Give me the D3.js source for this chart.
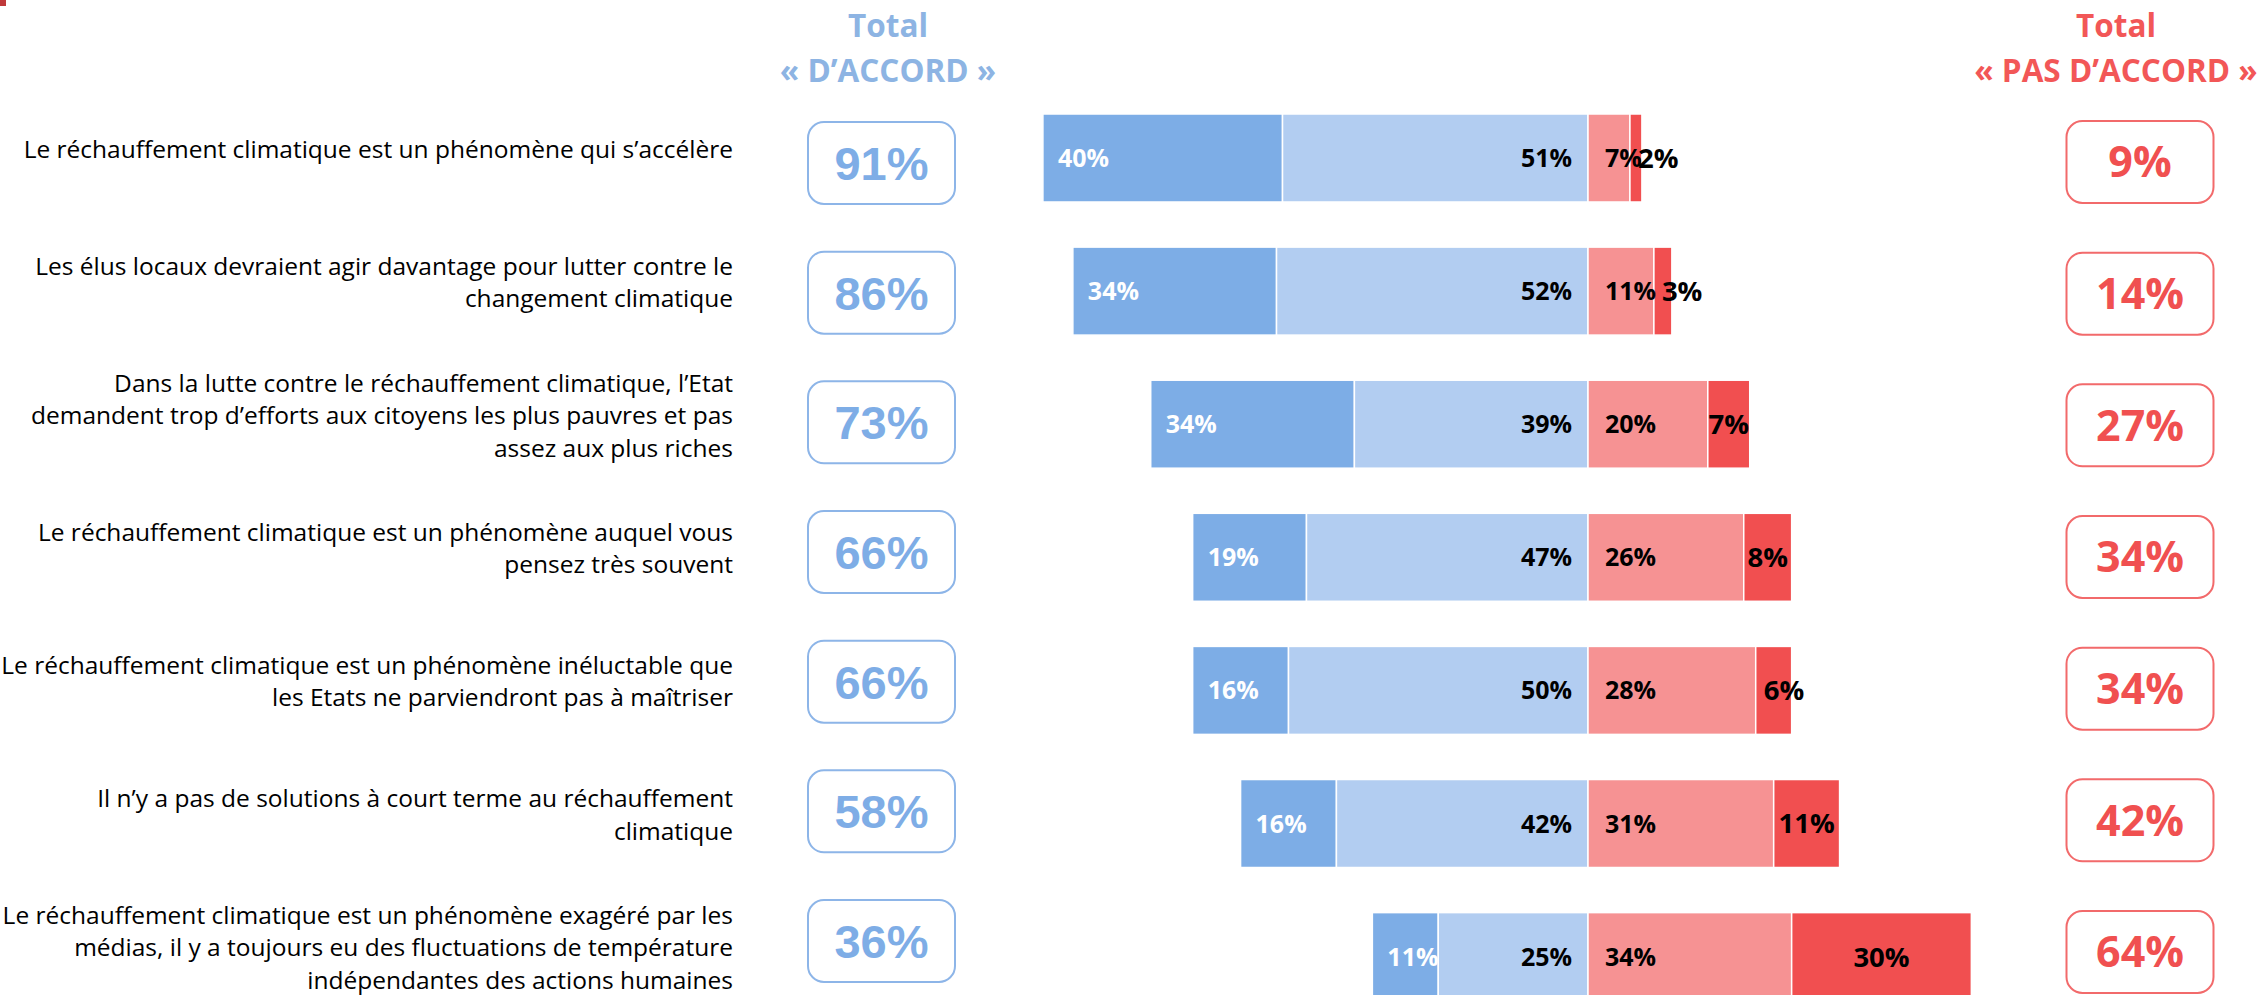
<!DOCTYPE html>
<html>
<head>
<meta charset="utf-8">
<script src="https://cdn.jsdelivr.net/npm/d3@7"></script>
<style>
  html, body { margin: 0; padding: 0; background: #fff; }
  svg { display: block; }
</style>
</head>
<body>
<svg width="2261" height="995"></svg>
<script>
var statements = [
    'Le réchauffement climatique est un phénomène qui s’accélère',
    'Les élus locaux devraient agir davantage pour lutter contre le\nchangement climatique',
    'Dans la lutte contre le réchauffement climatique, l’Etat\ndemandent trop d’efforts aux citoyens les plus pauvres et pas\nassez aux plus riches',
    'Le réchauffement climatique est un phénomène auquel vous\npensez très souvent',
    'Le réchauffement climatique est un phénomène inéluctable que\nles Etats ne parviendront pas à maîtriser',
    'Il n’y a pas de solutions à court terme au réchauffement\nclimatique',
    'Le réchauffement climatique est un phénomène exagéré par les\nmédias, il y a toujours eu des fluctuations de température\nindépendantes des actions humaines'
];
var tresDaccord = [40, 34, 34, 19, 16, 16, 11],
    plutotDaccord = [51, 52, 39, 47, 50, 42, 25],
    plutotPasDaccord = [7, 11, 20, 26, 28, 31, 34],
    pasDuToutDaccord = [2, 3, 7, 8, 6, 11, 30],
    totalDaccord = [91, 86, 73, 66, 66, 58, 36],
    totalPasDaccord = [9, 14, 27, 34, 34, 42, 64];
var headerDaccord = ['Total', '« D’ACCORD »'],
    headerPasDaccord = ['Total', '« PAS D’ACCORD »'];

var colors = ['#7DADE6', '#B2CDF1', '#F69293', '#F14F50'],
    labelColors = ['#fff', '#000', '#000', '#000'];

var svg = d3.select('svg');

// little red mark in the corner
svg.append('rect').attr('x', 0).attr('y', 0).attr('width', 6).attr('height', 6).attr('fill', '#C0393B');

var idx = d3.range(statements.length);

var x = d3.scaleLinear().domain([-100, 100]).range([989, 2187]);
var y = d3.scaleBand().domain(idx).range([114, 1000.6]).paddingInner(0.339).paddingOuter(0);
var boxLeftY = d3.scaleLinear().domain([0, 6]).range([163, 941]);
var boxRightY = d3.scaleLinear().domain([0, 6]).range([162, 952]);

function center(i) {
    return y(i) + y.bandwidth() / 2;
}

// build segments for each row
var rows = idx.map(function (i) {
    var s = [
        {k: 0, x0: -(tresDaccord[i] + plutotDaccord[i]), x1: -plutotDaccord[i], v: tresDaccord[i]},
        {k: 1, x0: -plutotDaccord[i], x1: 0, v: plutotDaccord[i]},
        {k: 2, x0: 0, x1: plutotPasDaccord[i], v: plutotPasDaccord[i]},
        {k: 3, x0: plutotPasDaccord[i], x1: plutotPasDaccord[i] + pasDuToutDaccord[i], v: pasDuToutDaccord[i]}
    ];
    s.forEach(function (d) { d.row = i; });
    return s;
});

var g = svg.append('g');

rows.forEach(function (segs, i) {
    var row = g.append('g');
    row.selectAll('rect')
        .data(segs)
        .enter().append('rect')
        .attr('x', function (d) { return x(d.x0); })
        .attr('y', y(i))
        .attr('width', function (d) { return x(d.x1) - x(d.x0); })
        .attr('height', y.bandwidth())
        .attr('fill', function (d) { return colors[d.k]; })
        .attr('stroke', '#fff')
        .attr('stroke-width', 1.5);

    row.selectAll('text')
        .data(segs)
        .enter().append('text')
        .attr('y', center(i))
        .attr('dy', '0.36em')
        .attr('fill', function (d) { return labelColors[d.k]; })
        .style('font-family', '"Open Sans", sans-serif')
        .style('font-weight', 700)
        .style('font-size', function (d) { return d.k === 3 ? '27.5px' : '25px'; })
        .text(function (d) { return d.v + '%'; })
        .each(function (d) {
            var t = d3.select(this),
                w = this.getComputedTextLength(),
                segW = x(d.x1) - x(d.x0);
            if (d.k === 0) {
                t.attr('x', x(d.x0) + 15).attr('text-anchor', 'start');
            } else if (d.k === 1) {
                t.attr('x', x(0) - 16).attr('text-anchor', 'end');
            } else if (d.k === 2) {
                t.attr('x', x(0) + 17).attr('text-anchor', 'start');
            } else if (w > segW) {
                // too narrow: push the label out to the right
                t.attr('x', x(d.x0) + 8).attr('text-anchor', 'start');
            } else {
                t.attr('x', (x(d.x0) + x(d.x1)) / 2).attr('text-anchor', 'middle');
            }
        });
});

// statement labels
var lineH = 32.5;
idx.forEach(function (i) {
    var lines = statements[i].split('\n'),
        c = center(i) - 9,
        top = c - (lines.length - 1) * lineH / 2;
    var t = svg.append('text')
        .attr('text-anchor', 'end')
        .attr('fill', '#000')
        .style('font-family', '"Open Sans", sans-serif')
        .style('font-size', '24.5px');
    lines.forEach(function (l, j) {
        t.append('tspan')
            .attr('x', 733)
            .attr('y', top + j * lineH)
            .attr('dy', '0.36em')
            .text(l);
    });
});

// headers
function header(lines, cx, color) {
    var t = svg.append('text')
        .attr('text-anchor', 'middle')
        .attr('fill', color)
        .style('font-family', '"Open Sans", sans-serif')
        .style('font-weight', 700)
        .style('font-size', '31.5px');
    lines.forEach(function (l, j) {
        t.append('tspan').attr('x', cx).attr('y', 37 + j * 45).text(l);
    });
}
header(headerDaccord, 888, '#8DB4E3');
header(headerPasDaccord, 2116, '#F25757');

// total boxes
function boxes(values, cx, yScale, stroke, fill, font, size) {
    var bw = 147, bh = 82;
    var b = svg.append('g').selectAll('g')
        .data(values)
        .enter().append('g')
        .attr('transform', function (d, i) { return 'translate(' + cx + ',' + yScale(i) + ')'; });
    b.append('rect')
        .attr('x', -bw / 2).attr('y', -bh / 2)
        .attr('width', bw).attr('height', bh)
        .attr('rx', 16).attr('ry', 16)
        .attr('fill', '#fff')
        .attr('stroke', stroke)
        .attr('stroke-width', 2);
    b.append('text')
        .attr('text-anchor', 'middle')
        .attr('dy', '0.36em')
        .attr('fill', fill)
        .style('font-family', font)
        .style('font-weight', 700)
        .style('font-size', size)
        .text(function (d) { return d + '%'; });
}
boxes(totalDaccord, 881.5, boxLeftY, '#8DB5E8', '#7EADE6', '"Liberation Sans", Arial, sans-serif', '47px');
boxes(totalPasDaccord, 2140, boxRightY, '#F26A6B', '#F05050', '"Open Sans", sans-serif', '43px');
</script>
</body>
</html>
